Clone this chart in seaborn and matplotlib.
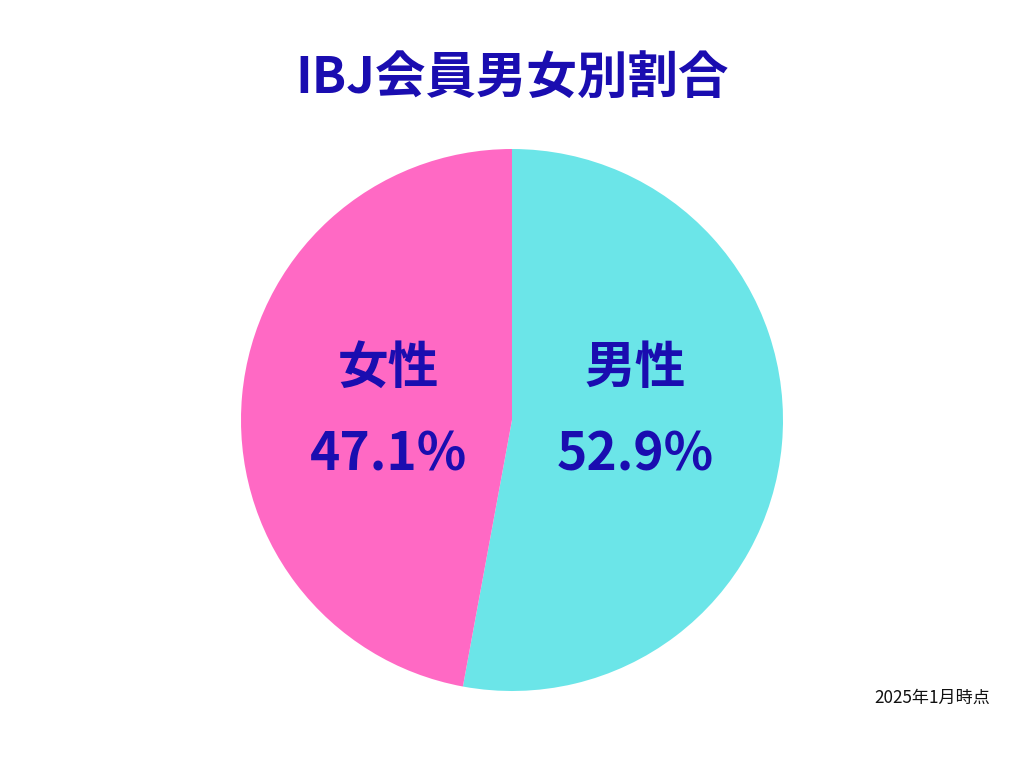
import numpy as np
import matplotlib
matplotlib.use("Agg")
import matplotlib.pyplot as plt
import seaborn as sns

sns.set_theme(style="white")
plt.rcParams['font.family'] = ['Noto Sans CJK JP', 'DejaVu Sans']

# data
labels = ['男性', '女性']
shares = [52.9, 47.1]
colors = ['#6BE5E8', '#FF69C4']
title = 'IBJ会員男女別割合'
note = '2025年1月時点'
text_color = '#1A0DB0'

fig = plt.figure(figsize=(10.24, 7.68), dpi=100)
fig.patch.set_facecolor('white')

# pie axes: centre (512, 420) px, radius ~271 px
ax = fig.add_axes([241 / 1024, 77 / 768, 542 / 1024, 542 / 768])
wedges, _ = ax.pie(shares, colors=colors, startangle=90, counterclock=False,
                   radius=1.0, wedgeprops=dict(linewidth=0))
ax.set_xlim(-1, 1)
ax.set_ylim(-1, 1)
ax.set_aspect('equal')
ax.axis('off')

# labels left/right of centre, same height for both slices
for w, lab, val in zip(wedges, labels, shares):
    ang = np.deg2rad((w.theta1 + w.theta2) / 2)
    cx = 0.458 * np.cos(ang)
    cy = 0.03
    ax.text(cx, cy + 0.16, lab, ha='center', va='center', fontsize=36.5,
            fontweight='bold', color=text_color)
    ax.text(cx, cy - 0.16, f'{val:.1f}%', ha='center', va='center', fontsize=37,
            fontweight='bold', color=text_color)

fig.text(0.5, 1 - 78 / 768, title, ha='center', va='center', fontsize=36.4,
         fontweight='bold', color=text_color)
fig.text(990 / 1024, 1 - 698 / 768, note, ha='right', va='center', fontsize=12.3,
         color='#111111')

plt.savefig('out.png', dpi=100, facecolor='white')
